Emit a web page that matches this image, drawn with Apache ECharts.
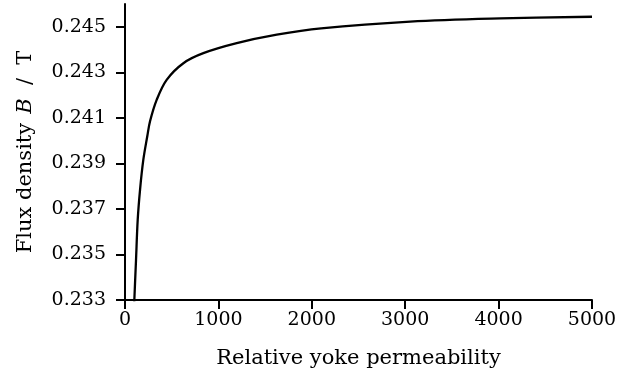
<!DOCTYPE html>
<html>
<head>
<meta charset="utf-8">
<script src="https://cdn.jsdelivr.net/npm/echarts@6/dist/echarts.min.js"></script>
<style>
  html, body { margin: 0; padding: 0; background: #fff; }
  #e_chart_1 { width: 629px; height: 378px; }
</style>
</head>
<body>
<div id="e_chart_1"></div>
<script>
var dom = document.getElementById("e_chart_1");
var myChart = echarts.init(dom);

// relative yoke permeability (x) and flux density in T (y)
var permeability = [60, 100, 118, 136, 161, 196, 239, 268, 339, 446, 625, 839, 1196, 1625, 2100, 3053, 4018, 5000];
var fluxDensity = [0.2285, 0.2330, 0.23476, 0.23652, 0.23784, 0.23915, 0.24020, 0.24085, 0.24179, 0.24267, 0.24340, 0.24384, 0.24428, 0.24465, 0.24493, 0.24523, 0.24537, 0.24544];
var yTicks = [0.233, 0.235, 0.237, 0.239, 0.241, 0.243, 0.245];

var fontName = 'DejaVu Serif';
var tickSize = 19;
var nameSize = 21;
var points = permeability.map(function (m, i) {
    return [m, fluxDensity[i]];
});

var option = {
    animation: false,
    grid: {
        left: 125,
        right: 37,
        top: 4,
        bottom: 78,
        containLabel: false
    },
    xAxis: {
        type: 'value',
        min: 0,
        max: 5000,
        interval: 1000,
        name: 'Relative yoke permeability',
        nameLocation: 'middle',
        nameGap: 48,
        nameTextStyle: { fontFamily: fontName, fontSize: nameSize, color: '#000' },
        axisLine: { show: true, lineStyle: { color: '#000', width: 2 } },
        axisTick: { show: true, length: 9, lineStyle: { color: '#000', width: 2 } },
        axisLabel: {
            fontFamily: fontName, fontSize: tickSize, color: '#000', margin: 11,
            formatter: function (v) { return String(v); }
        },
        splitLine: { show: false }
    },
    yAxis: {
        type: 'value',
        min: 0.233,
        max: 0.246,
        name: 'Flux density{i|B}\u00a0 / \u00a0T',
        nameLocation: 'middle',
        nameGap: 89,
        nameTextStyle: {
            fontFamily: fontName, fontSize: nameSize, color: '#000',
            rich: {
                i: { fontFamily: fontName, fontSize: nameSize, fontStyle: 'italic', color: '#000', padding: [0, 0, 0, 9] }
            }
        },
        axisLine: { show: true, lineStyle: { color: '#000', width: 2 } },
        axisTick: { show: true, length: 9, customValues: yTicks, lineStyle: { color: '#000', width: 2 } },
        axisLabel: {
            fontFamily: fontName, fontSize: tickSize, color: '#000', margin: 19,
            customValues: yTicks,
            formatter: function (v) { return v.toFixed(3); }
        },
        splitLine: { show: false }
    },
    series: [{
        type: 'line',
        data: points,
        showSymbol: false,
        smooth: 0.35,
        clip: true,
        lineStyle: { color: '#000', width: 2.3 }
    }]
};

myChart.setOption(option, true);
</script>
</body>
</html>
